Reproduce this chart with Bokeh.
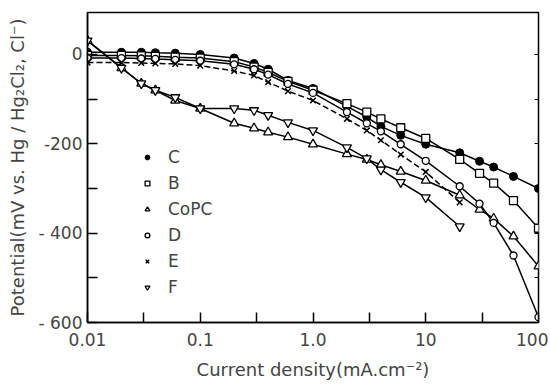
from bokeh.plotting import figure
from bokeh.models import (FixedTicker, CustomJSTickFormatter, Legend, LegendItem,
                          LinearAxis, Range1d)
from bokeh.embed import file_html
from bokeh.resources import INLINE

# ---- data (current density mA/cm2, potential mV) ----
x_full = [0.01, 0.02, 0.03, 0.04, 0.06, 0.1, 0.2, 0.3, 0.4, 0.6, 1.0,
          2, 3, 4, 6, 10, 20, 30, 40, 60, 100]
x_short = [0.01, 0.02, 0.03, 0.04, 0.06, 0.1, 0.2, 0.3, 0.4, 0.6, 1.0,
           2, 3, 4, 6, 10, 20]

C_vals = [5, 5, 5, 4, 3, 0, -8, -20, -33, -58, -76,
          -116, -140, -161, -181, -201, -220, -239, -252, -273, -300]
B_vals = [-2, -2, -3, -4, -6, -8, -16, -28, -40, -60, -80,
          -110, -129, -144, -164, -188, -235, -266, -288, -327, -389]
CoPC_vals = [31, -30, -65, -80, -103, -121, -154, -165, -174, -185, -201,
             -223, -235, -247, -262, -282, -315, -347, -367, -407, -474]
D_vals = [-8, -8, -9, -10, -12, -14, -22, -33, -45, -66, -86,
          -129, -154, -172, -201, -238, -295, -334, -377, -450, -588]
E_vals = [-18, -18, -19, -20, -21, -25, -37, -47, -62, -82, -103,
          -144, -170, -192, -224, -263, -331]
F_vals = [31, -30, -65, -80, -96, -121, -121, -125, -136, -152, -170,
          -208, -233, -258, -286, -320, -385]

x_ticks = [0.01, 0.1, 1.0, 10, 100]
x_tick_labels = ["0.01", "0.1", "1.0", "10", "100"]
x_half_ticks = [0.0316, 0.316, 3.16, 31.6]
y_ticks = [-600, -400, -200, 0]
y_tick_labels = ["- 600", "- 400", "-200", "0"]
y_half_ticks = [-500, -300, -100]
y_all_ticks = [-600, -500, -400, -300, -200, -100, 0]

FONT = "DejaVu Sans"

p = figure(width=548, height=384, x_axis_type="log",
           x_range=Range1d(0.01, 100), y_range=Range1d(-600, 94),
           output_backend="svg", toolbar_location=None,
           min_border_left=87, min_border_right=10, min_border_top=12,
           min_border_bottom=62)
p.grid.visible = False
p.outline_line_color = "black"
p.outline_line_width = 1.5
p.background_fill_color = "white"

fmt_js = """
for (let i = 0; i < tvals.length; i++) {
  if (Math.abs(tvals[i] - tick) <= 1e-6 * Math.max(1, Math.abs(tick))) return tlabels[i];
}
return "";
"""

xa = p.xaxis[0]
xa.ticker = FixedTicker(ticks=x_ticks, minor_ticks=x_half_ticks)
xa.formatter = CustomJSTickFormatter(args=dict(tvals=x_ticks, tlabels=x_tick_labels), code=fmt_js)
xa.major_tick_in = 10
xa.major_tick_out = 0
xa.minor_tick_in = 10
xa.minor_tick_out = 0
xa.axis_line_width = 1.5
xa.major_tick_line_width = 1.5
xa.minor_tick_line_width = 1.5
xa.major_label_text_font = FONT
xa.major_label_text_font_size = "17px"
xa.major_label_standoff = 10
xa.axis_label = "Current density(mA.cm\u207b\u00b2)"
xa.axis_label_text_font = FONT
xa.axis_label_text_font_size = "18px"
xa.axis_label_text_font_style = "normal"
xa.axis_label_standoff = 10

ya = p.yaxis[0]
ya.ticker = FixedTicker(ticks=y_ticks, minor_ticks=y_half_ticks)
ya.formatter = CustomJSTickFormatter(args=dict(tvals=y_ticks, tlabels=y_tick_labels), code=fmt_js)
ya.major_tick_in = 10
ya.major_tick_out = 0
ya.minor_tick_in = 10
ya.minor_tick_out = 0
ya.axis_line_width = 1.5
ya.major_tick_line_width = 1.5
ya.minor_tick_line_width = 1.5
ya.major_label_text_font = FONT
ya.major_label_text_font_size = "17px"
ya.major_label_standoff = 5
ya.axis_label = "Potential(mV vs. Hg / Hg\u2082Cl\u2082, Cl\u207b)"
ya.axis_label_text_font = FONT
ya.axis_label_text_font_size = "18px"
ya.axis_label_text_font_style = "normal"
ya.axis_label_standoff = 8

ra = LinearAxis(ticker=FixedTicker(ticks=[], minor_ticks=y_all_ticks),
                major_tick_line_color=None, minor_tick_in=4, minor_tick_out=0,
                axis_line_color=None)
p.add_layout(ra, "right")

line_kw = dict(line_color="black", line_width=1.5)
mk = dict(line_color="black", line_width=1.3, fill_color="white")

p.line(x_full, C_vals, **line_kw)
p.line(x_full, B_vals, **line_kw)
p.line(x_full, CoPC_vals, **line_kw)
p.line(x_full, D_vals, **line_kw)
p.line(x_short, E_vals, line_dash="6 3", **line_kw)
p.line(x_short, F_vals, **line_kw)

rC = p.scatter(x_full, C_vals, marker="circle", size=8, line_color="black", fill_color="black")
rB = p.scatter(x_full, B_vals, marker="square", size=8, **mk)
rCo = p.scatter(x_full, CoPC_vals, marker="triangle", size=9, **mk)
rD = p.scatter(x_full, D_vals, marker="circle", size=7, **mk)
rE = p.scatter(x_short, E_vals, marker="x", size=8, line_color="black", line_width=1.5)
rF = p.scatter(x_short, F_vals, marker="inverted_triangle", size=9, **mk)

legend = Legend(items=[LegendItem(label="C", renderers=[rC]),
                       LegendItem(label="B", renderers=[rB]),
                       LegendItem(label="CoPC", renderers=[rCo]),
                       LegendItem(label="D", renderers=[rD]),
                       LegendItem(label="E", renderers=[rE]),
                       LegendItem(label="F", renderers=[rF])],
                location=(54, 25), border_line_color=None, background_fill_alpha=0,
                label_text_font=FONT, label_text_font_size="17px",
                glyph_width=12, glyph_height=20, label_height=20, spacing=6,
                padding=0, margin=0, label_standoff=15)
p.add_layout(legend)

open("out.html", "w").write(file_html(p, INLINE))
